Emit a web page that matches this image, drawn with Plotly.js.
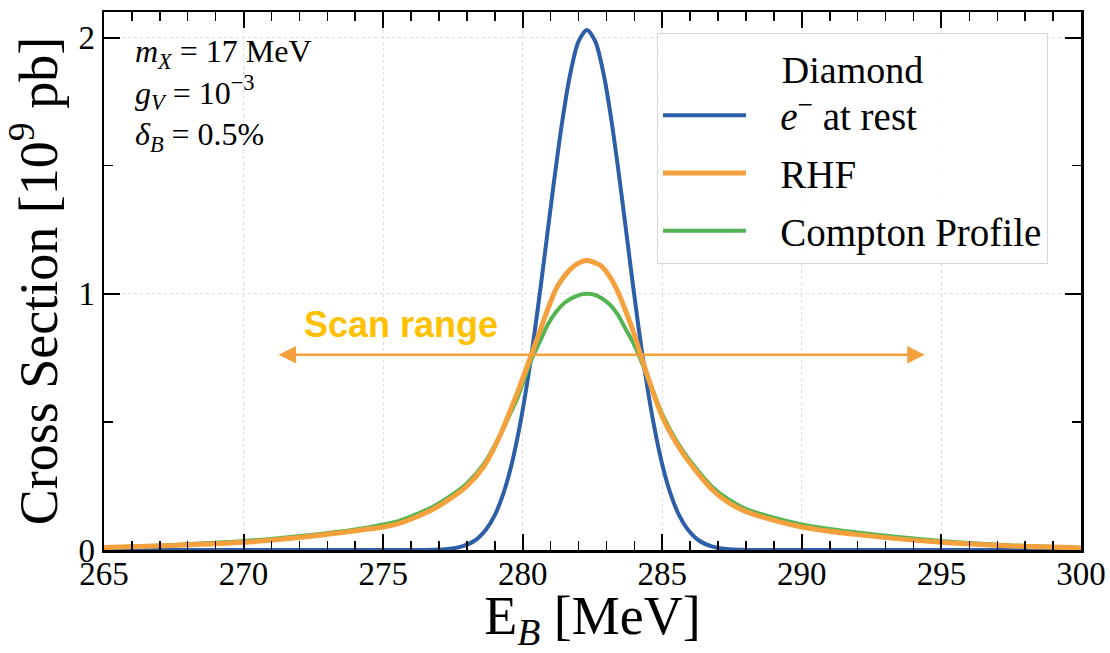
<!DOCTYPE html>
<html>
<head>
<meta charset="utf-8">
<script src="https://cdn.plot.ly/plotly-3.0.1.min.js"></script>
<style>html,body{margin:0;padding:0;background:#fff;}</style>
</head>
<body>
<div id="chart" style="width:1110px;height:653px;"></div>
<script>
// Beam energy E_B [MeV]
const restX = [265, 275, 276.8, 277.3, 277.8, 278.3, 278.7, 279.0, 279.3, 279.6, 279.9, 280.2, 280.5, 280.8, 281.1, 281.4, 281.7, 282.0, 282.3, 282.6, 282.9, 283.2, 283.5, 283.8, 284.1, 284.4, 284.7, 285.0, 285.3, 285.6, 285.9, 286.3, 286.8, 287.3, 287.8, 290, 300];
const restY = [0, 0, 0.001, 0.004, 0.013, 0.038, 0.082, 0.136, 0.218, 0.333, 0.487, 0.68, 0.909, 1.162, 1.421, 1.661, 1.857, 1.985, 2.03, 1.985, 1.857, 1.661, 1.421, 1.162, 0.909, 0.68, 0.487, 0.333, 0.218, 0.136, 0.082, 0.038, 0.013, 0.004, 0.001, 0, 0];

const profX = [265, 267.5, 270, 272.5, 274, 275, 275.6, 276.2, 276.8, 277.4, 278.0, 278.6, 279.2, 279.5, 279.8, 280.0, 280.3, 280.6, 280.9, 281.2, 281.5, 281.8, 282.1, 282.3, 282.5, 282.8, 283.1, 283.4, 283.7, 284.0, 284.2, 284.5, 285.0, 285.6, 286.2, 286.8, 287.4, 288.0, 289.2, 290, 292, 295, 297.5, 300];
const rhfY = [0.01, 0.018, 0.03, 0.055, 0.075, 0.09, 0.105, 0.13, 0.16, 0.2, 0.25, 0.325, 0.45, 0.53, 0.61, 0.67, 0.76, 0.85, 0.94, 1.02, 1.07, 1.105, 1.125, 1.13, 1.125, 1.11, 1.07, 1.01, 0.93, 0.84, 0.77, 0.67, 0.52, 0.40, 0.31, 0.234, 0.183, 0.15, 0.11, 0.09, 0.06, 0.03, 0.016, 0.008];
const comptonY = [0.01, 0.02, 0.035, 0.06, 0.08, 0.10, 0.115, 0.14, 0.17, 0.21, 0.26, 0.335, 0.45, 0.52, 0.59, 0.65, 0.74, 0.81, 0.88, 0.93, 0.965, 0.985, 0.998, 1.0, 0.998, 0.985, 0.96, 0.92, 0.86, 0.80, 0.75, 0.67, 0.53, 0.41, 0.32, 0.245, 0.195, 0.16, 0.12, 0.10, 0.068, 0.035, 0.018, 0.008];

const seriesNames = ['<i>e</i><sup>\u2212</sup> at rest', 'RHF', 'Compton Profile'];
const legendTitle = 'Diamond';
const scanRange = [271.2, 294.4];
const scanLevel = 0.762;
const scanLabel = 'Scan range';
const paramText = '<i>m</i><sub><i>X</i></sub> = 17 MeV<br><i>g</i><sub><i>V</i></sub> = 10<sup>\u22123</sup><br><i>\u03b4</i><sub><i>B</i></sub> = 0.5%';

const COL_BLUE = '#2c5fa8', COL_ORANGE = '#f4a03c', COL_GREEN = '#52b552';
const PAD = '\u00a0\u00a0\u00a0';

const traces = [
  {x: restX, y: restY, name: PAD + seriesNames[0], type: 'scatter', mode: 'lines',
   line: {color: COL_BLUE, width: 4, shape: 'spline', smoothing: 0.8}, legendrank: 1, legendgroup: 'a'},
  {x: profX, y: comptonY, name: PAD + seriesNames[2], type: 'scatter', mode: 'lines',
   line: {color: COL_GREEN, width: 4, shape: 'spline', smoothing: 0.8}, legendrank: 3, legendgroup: 'c'},
  {x: profX, y: rhfY, name: PAD + seriesNames[1], type: 'scatter', mode: 'lines',
   line: {color: COL_ORANGE, width: 5, shape: 'spline', smoothing: 0.8}, legendrank: 2, legendgroup: 'b'}
];

const axisCommon = {
  ticks: 'inside', ticklen: 16, tickwidth: 2, tickcolor: 'black',
  mirror: 'ticks', showline: true, linecolor: 'black', linewidth: 2.5,
  showgrid: true, gridcolor: '#dedede', griddash: 'dot', gridwidth: 1,
  zeroline: false, automargin: false,
  tickfont: {size: 33, family: 'Liberation Serif, serif', color: 'black'}
};

const layout = {
  width: 1110, height: 653,
  margin: {l: 104, r: 29, t: 12, b: 103},
  paper_bgcolor: 'white', plot_bgcolor: 'white',
  font: {family: 'Liberation Serif, serif', color: 'black'},
  xaxis: Object.assign({}, axisCommon, {
    range: [265, 300], tick0: 265, dtick: 5, ticklabelstandoff: -7,
    minor: {dtick: 1, ticks: 'inside', ticklen: 9, tickwidth: 1.5, tickcolor: 'black', showgrid: false},
    title: {text: 'E<sub><i>B</i></sub> [MeV]', font: {size: 54}, standoff: 98}
  }),
  yaxis: Object.assign({}, axisCommon, {
    range: [0, 2.1], tick0: 0, dtick: 1,
    minor: {dtick: 0.5, ticks: 'inside', ticklen: 9, tickwidth: 1.5, tickcolor: 'black', showgrid: false},
    title: {text: 'Cross Section [10<sup>9</sup> pb]\u00a0\u00a0\u00a0', font: {size: 54}, standoff: 4}
  }),
  legend: {
    x: 0.566, y: 0.961, xanchor: 'left', yanchor: 'top',
    bgcolor: 'rgba(255,255,255,0.85)', bordercolor: '#d8d8d8', borderwidth: 1,
    font: {size: 39, family: 'Liberation Serif, serif'},
    title: {text: legendTitle, side: 'top center', font: {size: 38}},
    itemwidth: 83, tracegroupgap: 4
  },
  annotations: [
    {x: scanRange[1], y: scanLevel, ax: scanRange[0], ay: scanLevel,
     xref: 'x', yref: 'y', axref: 'x', ayref: 'y', text: '', showarrow: true,
     arrowside: 'end+start', arrowhead: 2, arrowsize: 1.4, arrowwidth: 2.5, arrowcolor: COL_ORANGE},
    {x: 275.63, y: 0.88, xref: 'x', yref: 'y', text: '<b>' + scanLabel + '</b>', showarrow: false,
     font: {family: 'Liberation Sans, Arial, sans-serif', size: 36, color: '#ffc000'}},
    {x: 0.03, y: 0.965, xref: 'paper', yref: 'paper', xanchor: 'left', yanchor: 'top', align: 'left',
     text: paramText, showarrow: false, font: {size: 32, family: 'Liberation Serif, serif'}}
  ]
};

Plotly.newPlot('chart', traces, layout, {displayModeBar: false, staticPlot: true});
</script>
</body>
</html>
